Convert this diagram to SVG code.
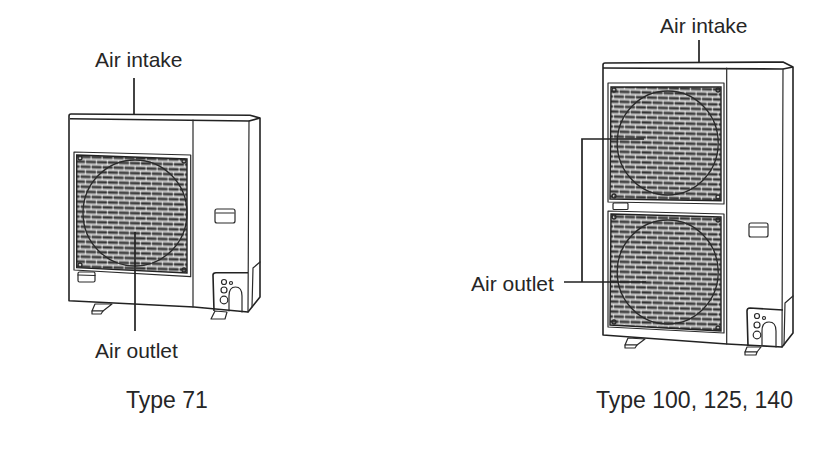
<svg xmlns="http://www.w3.org/2000/svg" width="834" height="459" viewBox="0 0 834 459">
<style>
.l{fill:none;stroke:#2a2a2a;stroke-width:1.2;stroke-linejoin:round;stroke-linecap:round}
.t{fill:none;stroke:#222;stroke-width:1.6;stroke-linejoin:round}
.f{fill:#fff;stroke:#2a2a2a;stroke-width:1.2;stroke-linejoin:round}
.c{fill:none;stroke:#2a2a2a;stroke-width:1.3}
.g{stroke:#222;stroke-width:1.4}
.lead{fill:none;stroke:#222;stroke-width:1.7}
text{font-family:"Liberation Sans",Arial,sans-serif;font-size:21px;fill:#262626}
.cap{font-size:23px}
</style>
<defs>
<pattern id="brick" width="11" height="10" patternUnits="userSpaceOnUse" patternTransform="skewY(1.6)">
<rect width="11" height="10" fill="#747474"/>
<path d="M0 4.400H11M0 9.400H11" stroke="#333" stroke-width="1.1"/>
<path d="M0 2H11M0 7H11" stroke="#fff" stroke-width="1.2"/>
<path d="M3 2V7M8.500 7V12M8.500 -3V2" stroke="#fff" stroke-width="0.9"/>
</pattern>
</defs>
<g id="unit-type-71">
<path class="f" d="M95 304L112 304L103 311L92 311Z"/>
<path class="f" d="M92 311L103 311L101 314L92 314Z"/>
<path class="f" d="M215 311L227 312L225 319L211 319Z"/>
<path class="t" d="M69 116Q69 114 71 114L250 115.300L260 118L260 297L248 312L194 307L69 300.700Z" fill="#fff"/>
<path class="t" d="M70 118.700L249 121L260 118"/>
<path class="l" d="M249 121L248 312M193 120L193 307M253 268L260 262M253 268L252 307"/>
<path class="l" d="M74 152L190.700 155L190.700 276.700L74 270Z"/>
<path class="g" d="M76.700 155L187 159L187 273L76.700 267.700Z" fill="url(#brick)"/>
<ellipse class="c" cx="135" cy="213" rx="52" ry="53"/>
<circle class="c" cx="80" cy="158" r="2"/><circle class="c" cx="184" cy="161" r="2"/><circle class="c" cx="80" cy="265" r="2"/><circle class="c" cx="184" cy="270" r="2"/>
<rect class="l" x="78" y="272" width="17" height="10" rx="1.500"/>
<path class="l" d="M78 275L95 275.500"/>
<rect class="l" x="215" y="209" width="20" height="14" rx="2"/>
<path class="l" d="M216 213L234 213"/>
<path class="t" d="M214 311L213 275Q213 272.700 216 272.700L248 272.700"/>
<path class="l" d="M229 311L229 296Q229 287 235.500 287Q242 287 242 296L242 312"/>
<circle class="l" cx="224" cy="282" r="2.500"/><circle class="l" cx="231" cy="283" r="1.500"/><circle class="l" cx="224" cy="290" r="3"/><circle class="l" cx="224" cy="300" r="3.800"/>
</g>
<g id="unit-type-100">
<path class="f" d="M628 338L645 339L637 345L625 345Z"/>
<path class="f" d="M625 345L637 345L635 348L625 348Z"/>
<path class="f" d="M747 347L761 347L757 352L745 352Z"/>
<path class="f" d="M745 352L757 352L756 355L745 355Z"/>
<path class="t" d="M603 65Q603 63 605 63L783 62L793 67L793 333L782 347L727 344L603 335Z" fill="#fff"/>
<path class="t" d="M603 68L783 69L793 67"/>
<path class="l" d="M783 69L782 347M726.700 68L726.700 344M785 303L793 296M785 303L784 345"/>
<path class="l" d="M608 83L724 83L724 204L608 202Z"/>
<path class="g" d="M611 87L721 87L721 200.700L610 199Z" fill="url(#brick)"/>
<ellipse class="c" cx="667.700" cy="143" rx="50.500" ry="52"/>
<path class="l" d="M608 211L724 214L724 333L608 327Z"/>
<path class="g" d="M611 214L721 217L721 331L610 325Z" fill="url(#brick)"/>
<ellipse class="c" cx="667.700" cy="272" rx="50.500" ry="52"/>
<circle class="c" cx="614" cy="90" r="2"/><circle class="c" cx="718" cy="90" r="2"/><circle class="c" cx="614" cy="196" r="2"/><circle class="c" cx="718" cy="197" r="2"/>
<circle class="c" cx="614" cy="217" r="2"/><circle class="c" cx="718" cy="220" r="2"/><circle class="c" cx="614" cy="322" r="2"/><circle class="c" cx="718" cy="328" r="2"/>
<rect class="l" x="613" y="203" width="15" height="6.500" rx="1"/>
<rect class="l" x="749" y="223" width="19" height="14" rx="2"/>
<path class="l" d="M750 227L767 227"/>
<path class="t" d="M748 346L747 311Q747 308 750 308L783 310"/>
<path class="l" d="M762 346L762 331Q762 322 769 322Q776 322 776 331L776 347"/>
<circle class="l" cx="757" cy="316" r="2.500"/><circle class="l" cx="764" cy="318" r="1.500"/><circle class="l" cx="757" cy="325" r="3"/><circle class="l" cx="757" cy="335" r="3.800"/>
</g>
<g id="connectors">
<path class="lead" d="M134 78V114"/>
<path class="lead" d="M135 232V331"/>
<path class="lead" d="M699 40V63"/>
<path class="lead" d="M644 139H582V282M564 282H646"/>
</g>
<g id="labels">
<text x="95" y="67">Air intake</text>
<text x="95" y="358">Air outlet</text>
<text class="cap" x="126" y="408">Type 71</text>
<text x="660" y="33">Air intake</text>
<text x="471" y="291">Air outlet</text>
<text class="cap" x="596" y="408">Type 100, 125, 140</text>
</g>
</svg>
